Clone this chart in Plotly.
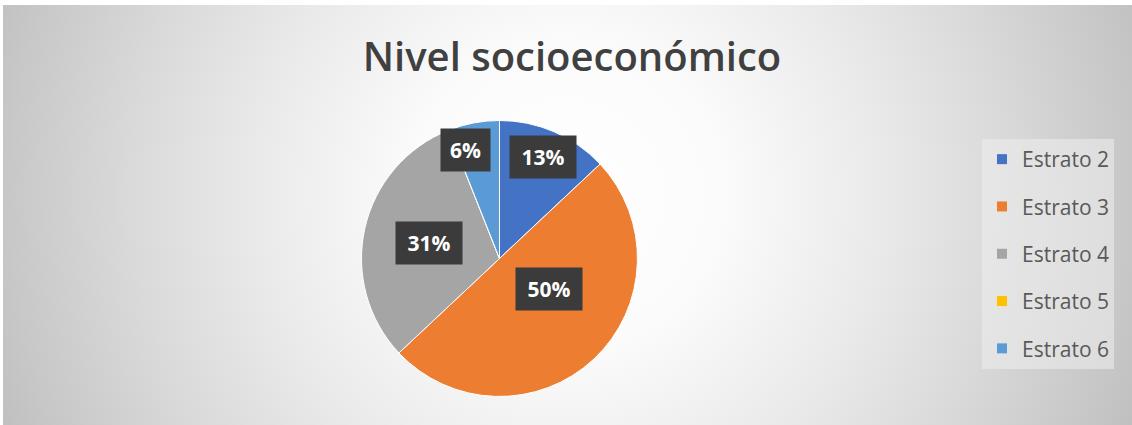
import base64
import math
import plotly.graph_objects as go

# Datos
categorias = ["Estrato 2", "Estrato 3", "Estrato 4", "Estrato 5", "Estrato 6"]
porcentajes = [13, 50, 31, 0, 6]
colores = ["#4472C4", "#ED7D31", "#A5A5A5", "#FFC000", "#5B9BD5"]
titulo = "Nivel socioeconómico"

# Lienzo y geometría (píxeles)
W, H = 1132, 425
AX0, AY0 = 3, 5            # esquina superior izquierda del área del gráfico
CX, CY, R = 499.5, 258.5, 138  # centro y radio de la torta

# Fondo con degradado radial (SVG embebido)
aw, ah = W - AX0, H - AY0
svg = f"""<svg xmlns='http://www.w3.org/2000/svg' width='{aw}' height='{ah}' viewBox='0 0 {aw} {ah}'>
<defs><radialGradient id='g' gradientUnits='userSpaceOnUse' cx='{aw/2}' cy='{ah/2 - 20}' r='620'>
<stop offset='0' stop-color='#FFFFFF'/>
<stop offset='0.25' stop-color='#FBFBFB'/>
<stop offset='0.5' stop-color='#EAEAEA'/>
<stop offset='0.7' stop-color='#DADADA'/>
<stop offset='0.9' stop-color='#C8C8C8'/>
<stop offset='1' stop-color='#BEBEBE'/>
</radialGradient></defs>
<rect x='0' y='0' width='{aw}' height='{ah}' fill='url(#g)'/>
</svg>"""
fondo = "data:image/svg+xml;base64," + base64.b64encode(svg.encode()).decode()

fig = go.Figure()

fig.add_trace(go.Pie(
    labels=categorias,
    values=porcentajes,
    marker=dict(colors=colores, line=dict(color="white", width=1)),
    sort=False,
    direction="clockwise",
    rotation=0,
    textinfo="none",
    hoverinfo="label+percent",
    showlegend=False,
    domain=dict(x=[(CX - R) / W, (CX + R) / W],
                y=[1 - (CY + R) / H, 1 - (CY - R) / H]),
))

# Entradas de leyenda
for cat, col in zip(categorias, colores):
    fig.add_trace(go.Scatter(
        x=[None], y=[None], mode="markers", name=cat, legendgroup=cat,
        marker=dict(symbol="square", size=10, color=col),
        showlegend=True, hoverinfo="skip",
    ))

# Etiquetas de porcentaje con recuadro oscuro
PAD, ALTO, SEP = 7, 44, 20   # relleno, alto aprox. del recuadro, separación mínima
cajas = []
total = sum(porcentajes)
acum = 0
for cat, v in zip(categorias, porcentajes):
    ang = math.radians((acum + v / 2) / total * 360)
    acum += v
    if v == 0:
        continue
    texto = f"{v}%"
    ancho = 17 * len(texto) + 1
    frac = 0.52 if v >= 20 else 0.8
    px = CX + frac * R * math.sin(ang)
    py = CY - frac * R * math.cos(ang)
    # separar horizontalmente de recuadros ya colocados si quedan muy juntos
    media = ancho / 2 + PAD
    for (ox, oy, om) in cajas:
        if abs(py - oy) < ALTO:
            hueco = abs(px - ox) - (media + om)
            if hueco < SEP:
                px += (SEP - hueco) * (1 if px >= ox else -1)
    cajas.append((px, py, media))
    fig.add_annotation(
        x=px / W, y=1 - py / H, xref="paper", yref="paper",
        text=texto, showarrow=False,
        font=dict(family="Open Sans", size=21, color="white", weight=700),
        bgcolor="#3B3B3B", borderpad=PAD, width=ancho,
    )

fig.update_layout(
    width=W, height=H,
    margin=dict(l=0, r=0, t=0, b=0),
    paper_bgcolor="white",
    plot_bgcolor="rgba(0,0,0,0)",
    xaxis=dict(visible=False),
    yaxis=dict(visible=False),
    title=dict(
        text=titulo, x=572 / W, y=1 - 57 / H, xanchor="center", yanchor="middle",
        font=dict(family="Open Sans", size=40, color="#404040", weight=600),
    ),
    legend=dict(
        x=982 / W, y=1 - 139 / H, xanchor="left", yanchor="top",
        tracegroupgap=17,
        font=dict(family="Open Sans", size=21, color="#595959"),
        bgcolor="rgba(238,238,238,0.55)",
    ),
    images=[dict(
        source=fondo, xref="paper", yref="paper",
        x=AX0 / W, y=1 - AY0 / H, sizex=aw / W, sizey=ah / H,
        xanchor="left", yanchor="top", sizing="stretch", layer="below",
    )],
)

fig.write_html("out.html")
